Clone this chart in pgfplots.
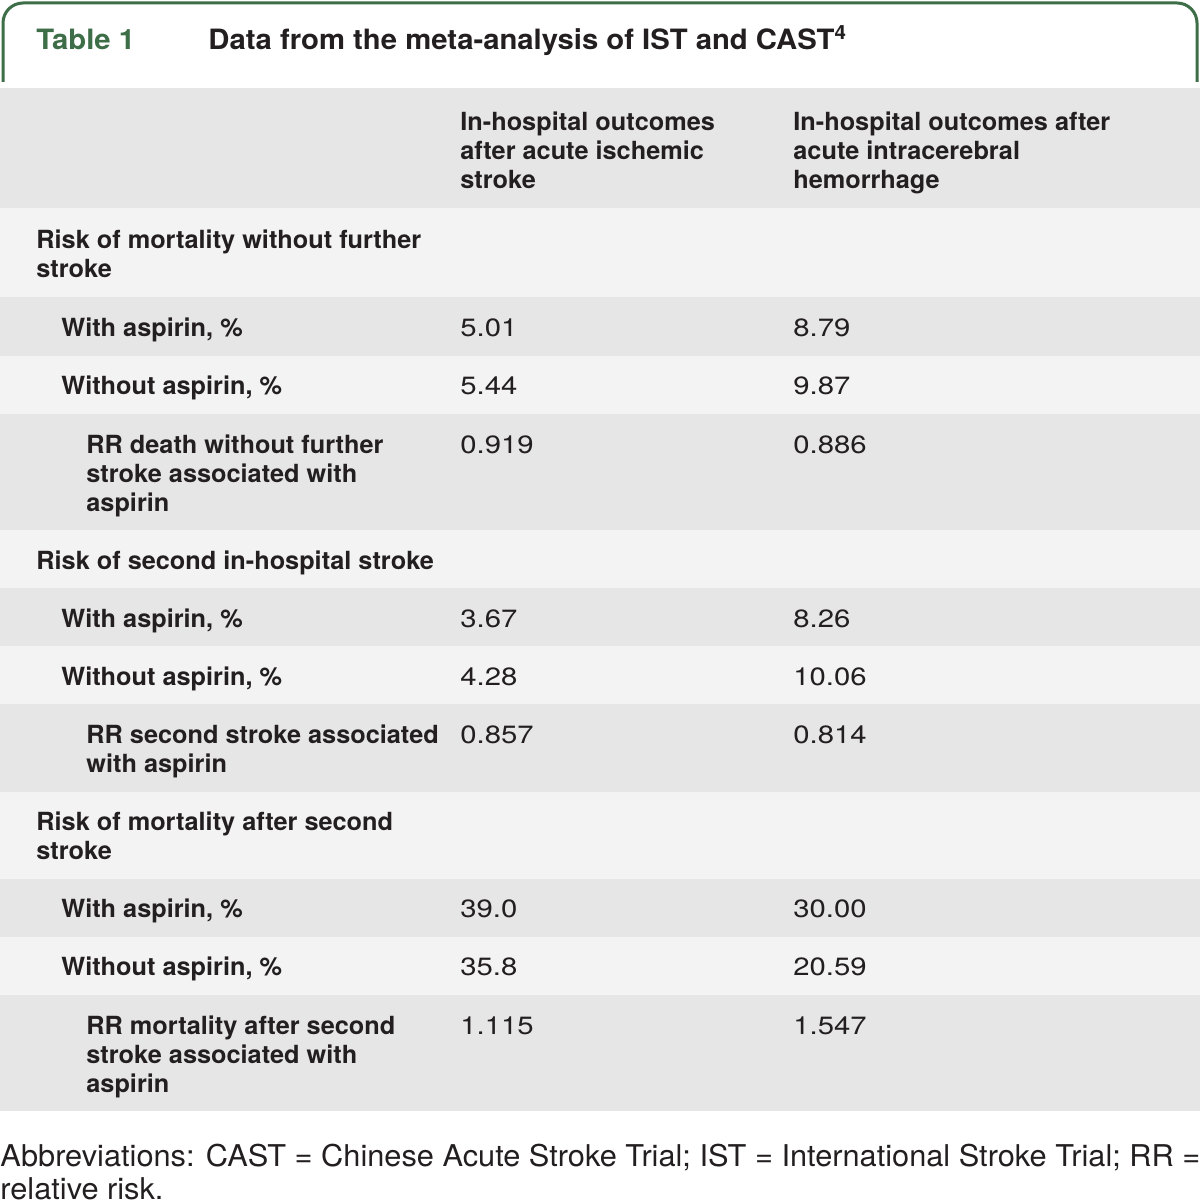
\documentclass[border=0pt]{standalone}
\usepackage{fontspec}
\setmainfont{TeX Gyre Heros}
\newfontfamily\footfont[FakeStretch=1.025]{TeX Gyre Heros}
\newfontfamily\lblfam[FakeStretch=1.012]{TeX Gyre Heros}
\newfontfamily\titfam[FakeStretch=1.045]{TeX Gyre Heros}
\newfontfamily\valfam[FakeStretch=1.17]{TeX Gyre Heros}
\usepackage{pgfplots}
\usepackage{pgfplotstable}
\pgfplotsset{compat=1.18}
\definecolor{tgreen}{RGB}{61,110,72}
\definecolor{tdark}{RGB}{35,31,32}
\definecolor{gdark}{RGB}{230,230,230}
\definecolor{glight}{RGB}{243,243,243}
\newcommand\lblfont{\fontsize{12.5}{15}\selectfont}
\newcommand\lb[3]{\node[anchor=base west, inner sep=0pt, font=\lblfam\lblfont\bfseries, text=tdark] at (axis cs:#1,#2) {#3};}
\pgfplotstableread{
x y lab
460 336 5.01
793 336 8.79
460 394 5.44
793 394 9.87
460 453 0.919
793 453 0.886
460 627 3.67
793 627 8.26
460 685 4.28
793 685 10.06
460 743 0.857
793 743 0.814
460 917 39.0
793 917 30.00
460 975 35.8
793 975 20.59
460 1034 1.115
793 1034 1.547
}\vals
\begin{document}
\begin{tikzpicture}
\begin{axis}[scale only axis, width=600pt, height=601.5pt,
  xmin=0, xmax=1200, ymin=0, ymax=1203, y dir=reverse,
  hide axis, clip=false]
\fill[white] (axis cs:0,0) rectangle (axis cs:1200,1203);
% frame
\draw[tgreen, line width=1.5pt, rounded corners=10pt] (axis cs:3,82) -- (axis cs:3,3) -- (axis cs:1197,3) -- (axis cs:1197,82);
\node[anchor=base west, inner sep=0pt, font=\titfam\fontsize{14}{17}\selectfont\bfseries, text=tgreen] at (axis cs:36,50) {Table 1};
\node[anchor=base west, inner sep=0pt, font=\titfam\fontsize{14}{17}\selectfont\bfseries, text=tdark] at (axis cs:208,50) {Data from the meta-analysis of IST and CAST\textsuperscript{4}};
% row backgrounds
\fill[gdark] (axis cs:0,88) rectangle (axis cs:1200,208);
\fill[glight] (axis cs:0,208) rectangle (axis cs:1200,297);
\fill[gdark] (axis cs:0,297) rectangle (axis cs:1200,356);
\fill[glight] (axis cs:0,356) rectangle (axis cs:1200,414);
\fill[gdark] (axis cs:0,414) rectangle (axis cs:1200,530);
\fill[glight] (axis cs:0,530) rectangle (axis cs:1200,588);
\fill[gdark] (axis cs:0,588) rectangle (axis cs:1200,646);
\fill[glight] (axis cs:0,646) rectangle (axis cs:1200,704);
\fill[gdark] (axis cs:0,704) rectangle (axis cs:1200,792);
\fill[glight] (axis cs:0,792) rectangle (axis cs:1200,879);
\fill[gdark] (axis cs:0,879) rectangle (axis cs:1200,937);
\fill[glight] (axis cs:0,937) rectangle (axis cs:1200,995);
\fill[gdark] (axis cs:0,995) rectangle (axis cs:1200,1111);
% header
\lb{460}{131}{In-hospital outcomes}
\lb{460}{160}{after acute ischemic}
\lb{460}{189}{stroke}
\lb{793}{131}{In-hospital outcomes after}
\lb{793}{160}{acute intracerebral}
\lb{793}{189}{hemorrhage}
% row labels
\lb{36}{249}{Risk of mortality without further}
\lb{36}{278}{stroke}
\lb{61}{336}{With aspirin, \%}
\lb{61}{394}{Without aspirin, \%}
\lb{86}{453}{RR death without further}
\lb{86}{482}{stroke associated with}
\lb{86}{511}{aspirin}
\lb{36}{569}{Risk of second in-hospital stroke}
\lb{61}{627}{With aspirin, \%}
\lb{61}{685}{Without aspirin, \%}
\lb{86}{743}{RR second stroke associated}
\lb{86}{772}{with aspirin}
\lb{36}{830}{Risk of mortality after second}
\lb{36}{859}{stroke}
\lb{61}{917}{With aspirin, \%}
\lb{61}{975}{Without aspirin, \%}
\lb{86}{1034}{RR mortality after second}
\lb{86}{1063}{stroke associated with}
\lb{86}{1092}{aspirin}
% values
\addplot[draw=none, mark=none, nodes near coords, point meta=explicit symbolic,
  nodes near coords style={anchor=base west, inner sep=0pt, font=\valfam\lblfont, text=tdark}]
  table[x=x, y=y, meta=lab] {\vals};
% footnote
\node[anchor=base west, inner sep=0pt, font=\footfont\fontsize{15}{18}\selectfont, text=tdark] at (axis cs:0,1166) {Abbreviations: CAST = Chinese Acute Stroke Trial; IST = International Stroke Trial; RR =};
\node[anchor=base west, inner sep=0pt, font=\footfont\fontsize{15}{18}\selectfont, text=tdark] at (axis cs:0,1199) {relative risk.};
\end{axis}
\end{tikzpicture}
\end{document}
